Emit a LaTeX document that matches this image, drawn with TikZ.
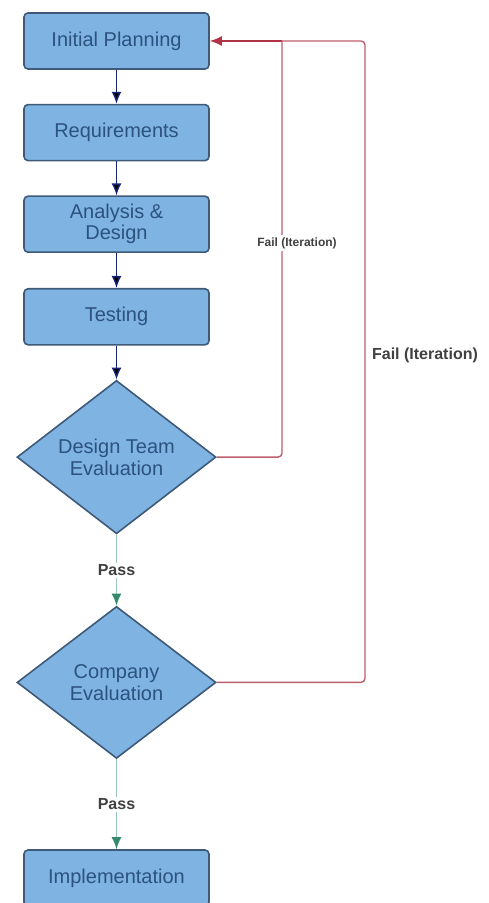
\documentclass[tikz,border=0pt]{standalone}
\usepackage{fontspec}
\setmainfont{Liberation Sans}
\usetikzlibrary{shapes.geometric,positioning,arrows.meta}

\definecolor{boxfill}{RGB}{127,180,226}
\definecolor{boxline}{RGB}{62,90,120}
\definecolor{boxtext}{RGB}{44,82,126}
\definecolor{navy}{RGB}{22,36,120}
\definecolor{passgreen}{RGB}{52,138,108}
\definecolor{failred}{RGB}{176,52,70}

\begin{document}
\begin{tikzpicture}[x=0.5pt,y=-0.5pt,>={Latex[length=6pt,width=5pt]},thick,
    step node/.style={rectangle,rounded corners=2pt,draw=boxline,line width=0.8pt,fill=boxfill,text=boxtext,minimum width=92.5pt,minimum height=28pt,align=center,font=\fontsize{10}{10.5}\selectfont},
    check node/.style={diamond,draw=boxline,line width=0.8pt,fill=boxfill,text=boxtext,minimum width=99.5pt,minimum height=76pt,inner sep=0pt,align=center,font=\fontsize{10}{11}\selectfont},
    flow/.style={->,draw=navy,line width=0.7pt},
    pass/.style={-{Latex[length=6pt,width=5pt,color=passgreen]},draw=passgreen!50,line width=0.8pt},
    fail/.style={draw=failred!80,line width=0.7pt,rounded corners=2pt},
    tag node/.style={text=black!75,font=\bfseries\fontsize{8}{8}\selectfont}]
                \useasboundingbox (0,0) rectangle (488,903);

                \node[step node] (plan) at (116.5,41) {Initial Planning};
                \node[step node] (req) [below=17pt of plan] {Requirements};
                \node[step node] (ana) [below=17pt of req] {Analysis \&\\Design};
                \node[step node] (test) [below=17.5pt of ana] {Testing};
                \node[check node] (dte) [below=17pt of test] {Design Team\\Evaluation};
                \node[check node] (ce) [below=35.5pt of dte] {Company\\Evaluation};
                \node[step node] (impl) [below=45pt of ce] {Implementation};

                \coordinate (j1) at (282,41);
                \coordinate (j2) at (365,41);

                \path[flow]
                    (plan) edge (req)
                    (req) edge (ana)
                    (ana) edge (test)
                    (test) edge (dte)
                ;

                \draw[pass] (dte) -- node[tag node,fill=white,inner sep=1pt] (pass1) {Pass} (ce);
                \draw[pass] (ce) -- node[tag node,fill=white,inner sep=1pt] (pass2) {Pass} (impl);
                \draw[->,draw=failred,line width=0.8pt] (j1) -- (plan.east);

                \draw[fail] (dte.east) -| (j1);
                \draw[fail] (ce.east) -| (j2) -- (j1);

                \node[tag node,fill=white,inner sep=1pt,font=\bfseries\fontsize{6}{6}\selectfont] (fail1) at (297,243) {Fail (Iteration)};
                \node[tag node] (fail2) at (425,355) {Fail (Iteration)};

            \end{tikzpicture}
\end{document}
